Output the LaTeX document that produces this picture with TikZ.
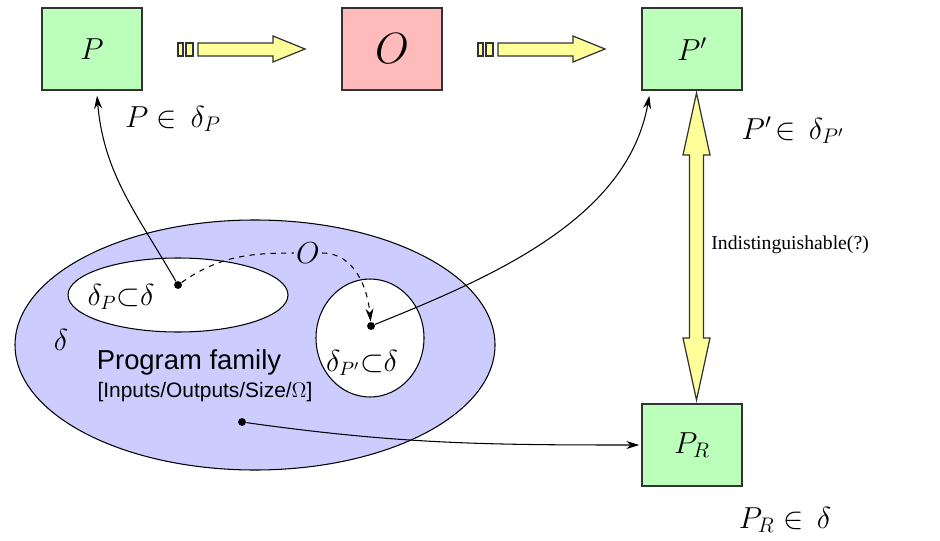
\documentclass[tikz,border=0pt]{standalone}
\usepackage{amsmath,amssymb}
\usepackage{fontspec}
\setmainfont{Liberation Serif}
\setsansfont{Liberation Sans}
\usepackage{tikz}
\usetikzlibrary{arrows.meta,positioning,calc}
\definecolor{boxgreen}{RGB}{187,255,187}
\definecolor{boxpink}{RGB}{255,187,187}
\definecolor{arrowyellow}{RGB}{255,255,153}
\definecolor{setblue}{RGB}{204,204,255}

\begin{document}
\begin{tikzpicture}[
    >={Stealth[length=2.6mm,width=1.6mm]}, semithick,
    box/.style={rectangle, draw=black!80, line width=0.8pt, fill=boxgreen, minimum width=2cm, minimum height=1.64cm, font=\fontsize{17}{20}\selectfont},
    blk/.style={draw=black!80, line width=0.7pt, fill=arrowyellow},
    dot/.style={circle, fill=black, inner sep=0pt, minimum size=4.5pt},
    big/.style={font=\fontsize{18}{22}\selectfont}
]
    \useasboundingbox (0,0) rectangle (18.8,-10.8);

    % Programs
    \node[box] (p) at (1.84,-0.98) {$P$};
    \node[box, fill=boxpink, font=\fontsize{26}{30}\selectfont] (o) at (7.84,-0.98) {$O$};
    \node[box] (pp) at (13.84,-0.98) {$P'$};
    \node[box] (pr) at (13.84,-8.9) {$P_R$};

    \node[big] (lp) at (3.46,-2.38) {$P \in \,\delta_P$};
    \node[big] (lpp) at (15.86,-2.6) {$P' \!\in \,\delta_{P'}$};
    \node[big] (lpr) at (15.7,-10.4) {$P_R \in \,\delta$};

    % Obfuscation arrows
    \foreach \dx in {0,6} {
        \begin{scope}[xshift=\dx cm]
            \draw[blk] (3.56,-0.86) rectangle (3.66,-1.12);
            \draw[blk] (3.72,-0.86) rectangle (3.86,-1.12);
            \draw[blk] (3.96,-0.86) -- (5.46,-0.86) -- (5.46,-0.72) -- (6.10,-0.98)
                -- (5.46,-1.24) -- (5.46,-1.12) -- (3.96,-1.12) -- cycle;
        \end{scope}
    }

    % Indistinguishable
    \draw[blk] (13.93,-1.86) -- (14.20,-3.10) -- (14.07,-3.10) -- (14.07,-6.76) -- (14.20,-6.76)
        -- (13.93,-8.0) -- (13.66,-6.76) -- (13.79,-6.76) -- (13.79,-3.10) -- (13.66,-3.10) -- cycle;
    \node[anchor=west, font=\fontsize{11.2}{14}\selectfont] (ind) at (14.1,-4.9) {Indistinguishable(?)};

    % Program family
    \draw[fill=setblue, line width=0.6pt] (5.1,-6.9) ellipse (4.8cm and 2.5cm);
    \draw[fill=white, line width=0.6pt] (3.56,-5.9) ellipse (2.2cm and 0.74cm);
    \draw[fill=white, line width=0.6pt] (7.4,-6.76) ellipse (1.08cm and 1.18cm);

    \node[font=\fontsize{17}{20}\selectfont] (d) at (1.22,-6.8) {$\delta$};
    \node[font=\fontsize{16}{20}\selectfont, inner sep=1pt] (dp) at (2.42,-5.94) {$\delta_P{\subset}\delta$};
    \node[font=\fontsize{16}{20}\selectfont, inner sep=1pt] (dpp) at (7.24,-7.26) {$\delta_{P'}{\subset}\delta$};
    \node[font=\sffamily\fontsize{15.6}{18}\selectfont] (fam) at (3.78,-7.24) {Program family};
    \node[font=\sffamily\fontsize{11.9}{14}\selectfont] (args) at (4.1,-7.84) {[Inputs/Outputs/Size/$\Omega$]};

    \node[dot] (d1) at (3.56,-5.7) {};
    \node[dot] (d2) at (7.42,-6.52) {};
    \node[dot] (d3) at (4.84,-8.44) {};
    \node[font=\fontsize{17}{20}\selectfont, inner sep=1pt] (ol) at (6.16,-5.06) {$O$};

    % Connectors
    \draw[dashed] (d1) to[out=35, in=180] (ol);
    \draw[dashed, ->] (ol) to[out=0, in=95] (d2);
    \draw[->] (d1) to[out=120, in=-85] ([xshift=0.1cm,yshift=-0.1cm]p.south);
    \draw[->] (d2) to[out=22, in=-100, looseness=0.9] ([xshift=0.16cm,yshift=-0.1cm]pp.south west);
    \draw[->] (d3) to[out=-8, in=180] ([xshift=-0.04cm]pr.west);
\end{tikzpicture}
\end{document}
